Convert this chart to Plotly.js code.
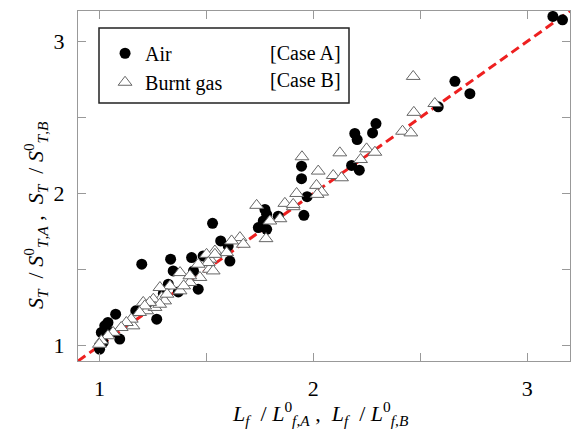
<!DOCTYPE html>
<html>
<head>
<meta charset="utf-8">
<script src="https://cdn.plot.ly/plotly-3.0.1.min.js"></script>
<style>html,body{margin:0;padding:0;background:#fff;}#chart{width:571px;height:431px;}</style>
</head>
<body>
<div id="chart"></div>
<script>
// Air [Case A] — filled circles
const airX = [3.120, 3.165, 2.662, 2.732, 2.584, 2.293, 2.277, 2.194, 2.205, 2.179, 2.215,
  1.945, 1.945, 1.971, 1.956, 1.774, 1.782, 1.766, 1.743, 1.782, 1.836,
  1.529, 1.567, 1.602, 1.610, 1.431, 1.333, 1.345, 1.462, 1.322, 1.369, 1.299,
  1.198, 1.268, 1.076, 1.095, 1.025, 1.040, 1.009, 1.001, 1.017, 1.056,
  1.440, 1.485, 1.170, 1.230];
const airY = [3.164, 3.142, 2.738, 2.657, 2.570, 2.460, 2.399, 2.395, 2.355, 2.185, 2.154,
  2.180, 2.098, 1.980, 1.857, 1.896, 1.864, 1.820, 1.777, 1.765, 1.852,
  1.805, 1.689, 1.656, 1.557, 1.580, 1.569, 1.492, 1.372, 1.405, 1.354, 1.344,
  1.536, 1.175, 1.208, 1.044, 1.131, 1.153, 1.088, 0.978, 1.022, 1.088,
  1.492, 1.590, 1.230, 1.270];

// Burnt gas [Case B] — open triangles
const burntX = [2.467, 2.470, 2.568, 2.417, 2.456, 2.124, 2.249, 2.288, 2.221, 2.023,
  2.093, 2.132, 1.947, 2.015, 2.039, 2.018, 1.922, 1.906, 1.735, 1.867,
  1.906, 1.844, 1.797, 1.779, 1.657, 1.673, 1.618, 1.595, 1.540, 1.517,
  1.501, 1.514, 1.540, 1.509, 1.532, 1.462, 1.470, 1.423, 1.377, 1.330,
  1.377, 1.283, 1.291, 1.252, 1.205, 1.221, 1.260, 1.305, 1.282, 1.235,
  1.212, 1.188, 1.157, 1.149, 1.126, 1.102, 1.064, 1.040, 1.009, 1.000,
  1.423, 1.394, 1.316];
const burntY = [2.770, 2.534, 2.592, 2.410, 2.399, 2.268, 2.294, 2.272, 2.224, 2.148,
  2.119, 2.104, 2.242, 2.054, 2.010, 1.995, 2.001, 1.914, 1.923, 1.936,
  1.929, 1.835, 1.820, 1.704, 1.711, 1.667, 1.689, 1.612, 1.623, 1.569,
  1.601, 1.503, 1.601, 1.547, 1.492, 1.536, 1.449, 1.416, 1.481, 1.393,
  1.361, 1.383, 1.317, 1.306, 1.285, 1.230, 1.252, 1.295, 1.273, 1.285,
  1.262, 1.219, 1.131, 1.175, 1.153, 1.120, 1.088, 1.066, 1.033, 1.010,
  1.460, 1.394, 1.339];

// y = x reference line
const refX = [0.9, 3.2];
const refY = [0.9, 3.2];

const tickVals = [1, 1.5, 2, 2.5, 3];
const tickText = ['1', '', '2', '', '3'];

const serif = 'Liberation Serif';

const traces = [
  {x: refX, y: refY, mode: 'lines', showlegend: false, hoverinfo: 'skip',
   line: {color: '#ee2020', width: 3, dash: '9px,5px'}},
  {x: airX, y: airY, mode: 'markers', name: 'Air',
   marker: {symbol: 'circle', size: 11, color: '#000', line: {width: 0}}},
  {x: burntX, y: burntY, mode: 'markers', name: 'Burnt gas',
   marker: {symbol: 'triangle-up', size: 12, color: '#fff', line: {width: 1, color: '#666'}}}
];

function axis() {
  return {
    range: [0.9, 3.2], tickvals: tickVals, ticktext: tickText,
    ticks: 'inside', ticklen: 8, tickcolor: '#999', tickwidth: 1,
    showline: true, linecolor: '#999', linewidth: 1, mirror: 'ticks',
    showgrid: false, zeroline: false,
    tickfont: {family: serif, size: 22, color: '#000'}
  };
}

const xa = axis(); xa.ticklabelstandoff = 8;
const ya = axis(); ya.ticklabelstandoff = 8;

const layout = {
  width: 571, height: 431,
  margin: {l: 78, r: 1, t: 11, b: 70},
  paper_bgcolor: '#fff', plot_bgcolor: '#fff',
  xaxis: xa, yaxis: ya,
  showlegend: true,
  legend: {x: 0.055, y: 0.935, xanchor: 'left', yanchor: 'top',
           bgcolor: 'rgba(0,0,0,0)', borderwidth: 0,
           font: {family: serif, size: 20, color: '#000'}, tracegroupgap: 0},
  shapes: [
    {type: 'rect', xref: 'paper', yref: 'paper',
     x0: (99 - 78) / 492, x1: (349 - 78) / 492,
     y0: 1 - (103 - 11) / 350, y1: 1 - (28 - 11) / 350,
     line: {color: '#222', width: 1.5}, fillcolor: 'rgba(0,0,0,0)'}
  ],
  annotations: [
    {xref: 'paper', yref: 'paper', x: (343 - 78) / 492, y: 1 - (53 - 11) / 350,
     xanchor: 'right', yanchor: 'middle', showarrow: false, text: '[Case A]',
     font: {family: serif, size: 20, color: '#000'}},
    {xref: 'paper', yref: 'paper', x: (343 - 78) / 492, y: 1 - (80 - 11) / 350,
     xanchor: 'right', yanchor: 'middle', showarrow: false, text: '[Case B]',
     font: {family: serif, size: 20, color: '#000'}},
    {xref: 'paper', yref: 'paper', x: (320 - 78) / 492, y: 1 - (413 - 11) / 350,
     xanchor: 'center', yanchor: 'middle', showarrow: false,
     text: '<i>L</i><sub><i>f</i></sub>  / <i>L</i><sup>0</sup><sub><i>f</i>,<i>A</i></sub> ,  <i>L</i><sub><i>f</i></sub>  / <i>L</i><sup>0</sup><sub><i>f</i>,<i>B</i></sub>',
     font: {family: serif, size: 22, color: '#000'}},
    {xref: 'paper', yref: 'paper', x: (35 - 78) / 492, y: 1 - (215 - 11) / 350,
     xanchor: 'center', yanchor: 'middle', showarrow: false, textangle: -90,
     text: '<i>S</i><sub><i>T</i></sub>  / <i>S</i><sup>0</sup><sub><i>T</i>,<i>A</i></sub> ,  <i>S</i><sub><i>T</i></sub>  / <i>S</i><sup>0</sup><sub><i>T</i>,<i>B</i></sub>',
     font: {family: serif, size: 22, color: '#000'}}
  ]
};

Plotly.newPlot('chart', traces, layout, {displayModeBar: false, staticPlot: true});
</script>
</body>
</html>
